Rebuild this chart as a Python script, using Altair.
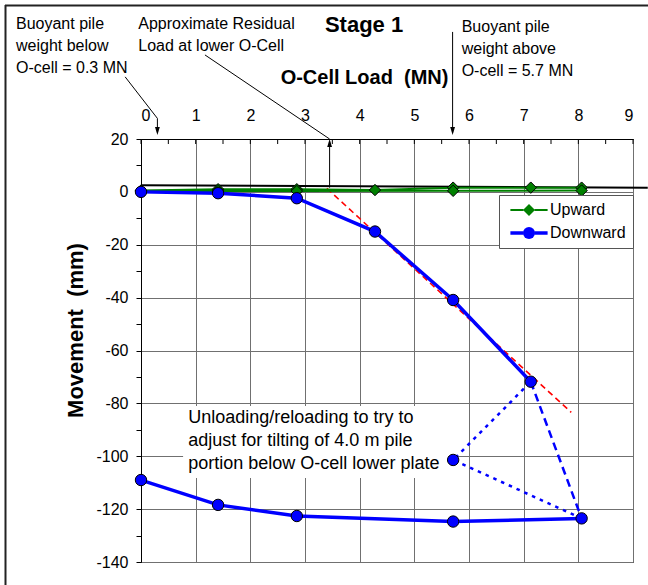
import altair as alt
import pandas as pd

# ---------------------------------------------------------------------------
# Test data: Stage 1 O-cell test
# ---------------------------------------------------------------------------
# O-cell load steps (MN)
LOAD_STEPS = [0.0, 1.41, 2.85, 4.28, 5.71, 7.13, 8.06]
UNLOAD_STEPS = [8.06, 5.71, 2.85, 1.41, 0.0]

# Upward movement of the upper plate (mm)
UP_LOADING = [0.5, 1.0, 1.0, 0.7, 1.6, 1.6, 1.6]
UP_UNLOADING = [0.5, 0.4, 0.3, 0.3, 0.3]

# Downward movement of the lower plate (mm)
DOWN_LOADING = [0.0, -0.5, -2.4, -15.0, -40.9, -71.8]     # first six load steps
DOWN_JUMP_LOAD = [7.13, 8.06]
DOWN_JUMP = [-71.8, -123.5]
DOWN_CYCLE_LOAD = [8.06, 5.71, 7.13]                        # unload / reload cycle
DOWN_CYCLE = [-123.5, -101.4, -71.8]
DOWN_UNLOADING = [-123.5, -124.7, -122.6, -118.4, -109.0]

# Straight-line trend used to read the residual load
TREND_LOAD = [3.4, 7.87]
TREND_MM = [1.3, -83.4]

# Reference line drawn along zero movement
ZERO_LOAD = [0.0, 9.27]
ZERO_MM = [2.5, 1.6]

# Values quoted in the annotations (MN)
BUOYANT_BELOW = 0.3
BUOYANT_ABOVE = 5.7
RESIDUAL_LOAD = 3.45

# Axis tick positions
X_LABELS = list(range(0, 10))
X_TICKS = [i / 2 for i in range(0, 19)]
Y_TICKS = list(range(-140, 21, 10))

FONT = "Liberation Sans"
GREEN = "#008000"
BLUE = "#0000ff"
NBSP = "\u00a0"

# ---------------------------------------------------------------------------
# Shared scales / axes
# ---------------------------------------------------------------------------
x_scale = alt.Scale(domain=[0, 9], nice=False, zero=False)
y_scale = alt.Scale(domain=[-140, 20], nice=False, zero=False)

x_axis = alt.Axis(
    orient="top", values=X_LABELS, ticks=False, tickSize=0,
    labelFontSize=16, labelPadding=19, labelBaseline="alphabetic",
    grid=True, title=f"O-Cell Load{NBSP} (MN)", titleFontSize=20,
    titleFontWeight="bold", titleX=223, titleY=-55.7,
    titleBaseline="alphabetic", titleAlign="center",
)
y_axis = alt.Axis(
    values=Y_TICKS, tickSize=5, labelFontSize=16, labelPadding=8,
    labelExpr="datum.value % 20 === 0 ? '' + datum.value : ''",
    grid=True,
    gridOpacity={"condition": {"test": "datum.value % 20 === 0", "value": 1}, "value": 0},
    title=f"Movement{NBSP} (mm)", titleFontSize=22, titleFontWeight="bold",
    titleAngle=270, titleX=-59, titleY=191,
    titleBaseline="alphabetic", titleAlign="center",
)


def X(field="load"):
    return alt.X(f"{field}:Q", scale=x_scale, axis=x_axis)


def Y(field="mm"):
    return alt.Y(f"{field}:Q", scale=y_scale, axis=y_axis)


def rows(xs, ys, **extra):
    return [dict(load=x, mm=y, step=i, **extra) for i, (x, y) in enumerate(zip(xs, ys))]


# ---------------------------------------------------------------------------
# Tables
# ---------------------------------------------------------------------------
solid = pd.DataFrame(
    rows(LOAD_STEPS, UP_LOADING, key="Upward line", grp="up_load")
    + rows(UNLOAD_STEPS, UP_UNLOADING, key="Upward line", grp="up_unload")
    + rows(LOAD_STEPS[:6], DOWN_LOADING, key="Downward line", grp="down_load")
    + rows(UNLOAD_STEPS, DOWN_UNLOADING, key="Downward line", grp="down_unload")
)
dashed = pd.DataFrame(rows(DOWN_JUMP_LOAD, DOWN_JUMP))
dotted = pd.DataFrame(rows(DOWN_CYCLE_LOAD, DOWN_CYCLE))
trend = pd.DataFrame(rows(TREND_LOAD, TREND_MM))
zero_line = pd.DataFrame(rows(ZERO_LOAD, ZERO_MM))

points = pd.DataFrame(
    rows(LOAD_STEPS, UP_LOADING, series="Upward")
    + rows(UNLOAD_STEPS, UP_UNLOADING, series="Upward")
    + rows(LOAD_STEPS[:6], DOWN_LOADING, series="Downward")
    + rows(DOWN_CYCLE_LOAD[1:2], DOWN_CYCLE[1:2], series="Downward")
    + rows(UNLOAD_STEPS, DOWN_UNLOADING, series="Downward")
)

leaders = pd.DataFrame(
    rows([-0.29, BUOYANT_BELOW, BUOYANT_BELOW], [43.5, 27.8, 22.5], grp="below")
    + rows([BUOYANT_ABOVE, BUOYANT_ABOVE], [60.5, 22.5], grp="above")
    + rows([RESIDUAL_LOAD, RESIDUAL_LOAD], [1.6, 19.0], grp="resid")
    + rows([1.17, RESIDUAL_LOAD], [51.8, 20.0], grp="resid_note")
)
heads_down = pd.DataFrame(rows([BUOYANT_BELOW, BUOYANT_ABOVE], [23.0, 23.0]))
heads_up = pd.DataFrame(rows([RESIDUAL_LOAD], [18.5]))

notes = pd.DataFrame({
    "load": [-2.287, -0.05, 5.866],
    "mm": [61.6, 61.6, 60.5],
    "label": [
        f"Buoyant pile\nweight below\nO-cell = {BUOYANT_BELOW} MN",
        "Approximate Residual\nLoad at lower O-Cell",
        f"Buoyant pile\nweight above\nO-cell = {BUOYANT_ABOVE} MN",
    ],
})
cycle_note = pd.DataFrame({
    "load": [0.865], "mm": [-87.5],
    "label": ["Unloading/reloading to try to\nadjust for tilting of 4.0 m pile\nportion below O-cell lower plate"],
})
stage = pd.DataFrame({"load": [4.08], "mm": [60.6], "label": ["Stage 1"]})
note_box = pd.DataFrame({"load": [0.77], "load2": [5.62], "mm": [-81.0], "mm2": [-108.2]})
x_ticks = pd.DataFrame({"load": X_TICKS})
one = pd.DataFrame({"a": [0]})

# ---------------------------------------------------------------------------
# Legends: boxed marker legend underneath, line strokes (with a gap for the
# marker) drawn over it
# ---------------------------------------------------------------------------
legend_common = dict(
    title=None, orient="none", legendX=358, legendY=56, padding=7,
    symbolOffset=15, labelOffset=13, labelFontSize=16, labelFont=FONT,
    labelColor="black", rowPadding=7, symbolSize=144,
)
line_legend = alt.Legend(
    **legend_common, symbolType="M-3.1,0H-0.9M0.9,0H3.1", labelExpr="''",
    zindex=2, symbolStrokeWidth=3,
)
marker_legend = alt.Legend(
    **legend_common, symbolStrokeColor="black", symbolStrokeWidth=1,
    symbolOpacity=1, fillColor="white", strokeColor="#555555", zindex=1,
)

# ---------------------------------------------------------------------------
# Layers
# ---------------------------------------------------------------------------
frame_left = alt.Chart(one).mark_rule(color="#222222", strokeWidth=2).encode(
    x=alt.value(-135.5), y=alt.value(-134), y2=alt.value(460))
frame_top = alt.Chart(one).mark_rule(color="#222222", strokeWidth=2).encode(
    x=alt.value(-136), x2=alt.value(520), y=alt.value(-133.5))

box = alt.Chart(note_box).mark_rect(fill="white").encode(
    x=X(), x2="load2:Q", y=Y(), y2="mm2:Q")

trend_line = alt.Chart(trend).mark_line(color="#ff0000", strokeWidth=1.6, strokeDash=[6, 4]).encode(
    x=X(), y=Y(), order="step:Q")

zero_rule = alt.Chart(zero_line).mark_line(color="black", strokeWidth=2).encode(
    x=X(), y=Y(), order="step:Q")

solid_lines = alt.Chart(solid).mark_line().encode(
    x=X(), y=Y(),
    stroke=alt.Stroke("key:N", scale=alt.Scale(domain=["Upward line", "Downward line"],
                                               range=[GREEN, BLUE]), legend=line_legend),
    strokeWidth=alt.StrokeWidth("key:N", scale=alt.Scale(domain=["Upward line", "Downward line"],
                                                         range=[2, 3.5]), legend=None),
    detail="grp:N", order="step:Q",
)

dashed_line = alt.Chart(dashed).mark_line(color=BLUE, strokeWidth=2.5, strokeDash=[8, 5]).encode(
    x=X(), y=Y(), order="step:Q")
dotted_line = alt.Chart(dotted).mark_line(color=BLUE, strokeWidth=2.5, strokeDash=[3.5, 5]).encode(
    x=X(), y=Y(), order="step:Q")

markers = alt.Chart(points).mark_point(filled=True, size=130, stroke="black",
                                       strokeWidth=1, opacity=1).encode(
    x=X(), y=Y(),
    fill=alt.Fill("series:N", scale=alt.Scale(domain=["Upward", "Downward"], range=[GREEN, BLUE]),
                  legend=marker_legend),
    shape=alt.Shape("series:N", scale=alt.Scale(domain=["Upward", "Downward"],
                                                range=["diamond", "circle"]),
                    legend=marker_legend),
)

top_ticks = alt.Chart(x_ticks).mark_rule(color="black", strokeWidth=1).encode(
    x=X(), y=alt.value(0), y2=alt.value(5))

leader_lines = alt.Chart(leaders).mark_line(color="black", strokeWidth=1).encode(
    x=X(), y=Y(), detail="grp:N", order="step:Q")
arrow_down = alt.Chart(heads_down).mark_point(
    shape="M0,1L-0.6,-1L0.6,-1Z", filled=True, color="black", size=64, opacity=1).encode(x=X(), y=Y())
arrow_up = alt.Chart(heads_up).mark_point(
    shape="M0,-1L-0.6,1L0.6,1Z", filled=True, color="black", size=64, opacity=1).encode(x=X(), y=Y())

note_text = alt.Chart(notes).mark_text(
    align="left", baseline="alphabetic", font=FONT, fontSize=16, lineHeight=22,
    lineBreak="\n", color="black").encode(x=X(), y=Y(), text="label:N")
cycle_text = alt.Chart(cycle_note).mark_text(
    align="left", baseline="alphabetic", font=FONT, fontSize=18, lineHeight=23,
    lineBreak="\n", color="black").encode(x=X(), y=Y(), text="label:N")
stage_text = alt.Chart(stage).mark_text(
    align="center", baseline="alphabetic", font=FONT, fontSize=22, fontWeight="bold",
    color="black").encode(x=X(), y=Y(), text="label:N")

chart = alt.layer(
    box, trend_line, zero_rule, solid_lines, dashed_line, dotted_line, markers,
    top_ticks, leader_lines, arrow_down, arrow_up, note_text, cycle_text, stage_text,
    frame_left, frame_top,
).properties(
    width=492, height=423,
    padding={"left": 141, "top": 139, "right": 15, "bottom": 23},
    autosize=alt.AutoSizeParams(type="none"),
    background="white",
).configure_view(
    stroke="black", strokeWidth=1,
).configure_axis(
    labelFont=FONT, titleFont=FONT, labelColor="black", titleColor="black",
    domainColor="black", tickColor="black", gridColor="#707070", gridWidth=1,
)

chart.save("out.html", embed_options={"renderer": "svg", "actions": False})
